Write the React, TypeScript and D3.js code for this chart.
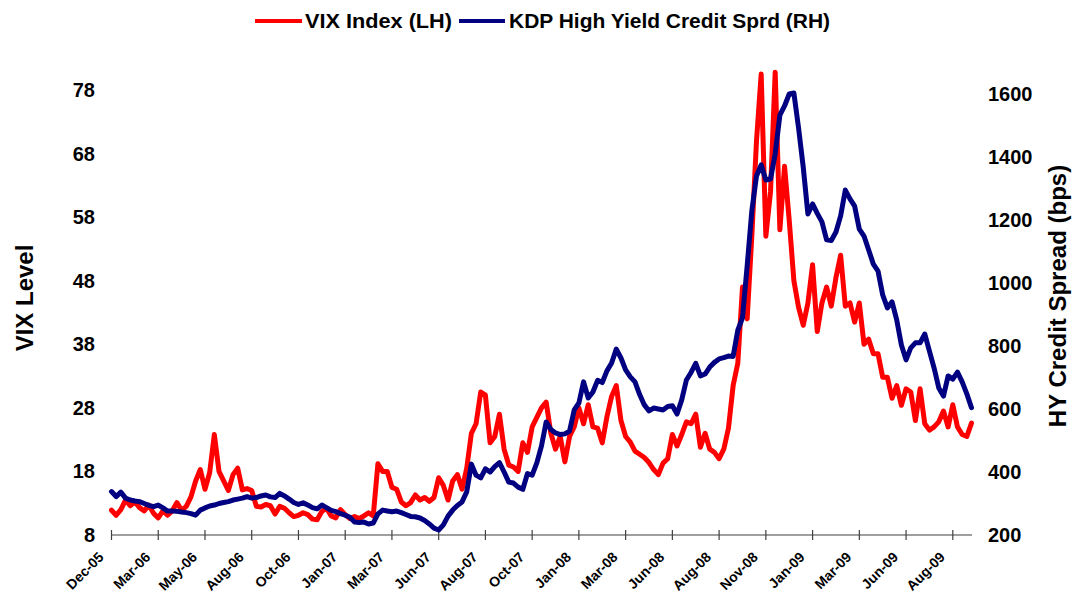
import React from "react";
import * as d3 from "d3";

// Weekly samples (index 0..184), Dec-05 .. Oct-09
const vixIndex: number[] = [11.9,11.1,12.0,13.5,12.6,13.2,12.3,11.8,12.7,11.4,
10.7,11.8,11.1,11.8,13.1,11.9,12.5,14.0,16.5,18.3,
15.2,17.8,23.8,18.0,16.5,15.0,17.5,18.5,15.1,15.3,
15.0,12.5,12.4,12.8,12.6,11.3,12.5,12.2,11.5,10.9,
11.1,11.5,11.2,10.5,10.4,11.7,12.2,11.0,10.7,12.0,
11.2,10.6,10.9,10.6,11.0,11.5,11.0,19.2,18.0,18.0,
15.5,15.2,13.2,12.6,13.1,14.3,13.5,13.9,13.3,13.9,
17.0,15.8,13.5,16.5,17.5,15.2,18.5,24.0,25.5,30.5,
30.0,22.5,23.5,27.0,21.5,19.0,18.7,18.0,22.5,21.0,
25.0,26.5,28.0,28.9,24.0,21.5,23.5,19.5,23.5,25.0,
28.0,25.5,28.5,25.0,24.8,22.5,26.6,29.8,31.5,26.0,
23.5,22.6,21.2,20.7,20.2,19.4,18.3,17.5,19.3,20.0,
23.8,22.0,23.8,25.8,25.5,27.0,21.8,24.0,21.5,21.0,
20.0,21.5,24.8,31.5,35.0,47.0,42.0,55.0,70.0,80.5,
55.0,62.0,80.8,56.0,66.0,57.5,48.0,43.8,41.0,44.5,
50.5,40.0,44.5,47.0,44.0,48.5,52.0,44.0,44.5,41.5,
44.5,38.0,38.8,36.5,36.5,32.8,32.8,29.5,31.5,28.4,
31.0,30.5,26.0,31.0,25.5,24.5,25.0,25.8,27.5,25.0,
28.5,25.0,23.8,23.5,25.6];

const hySpread: number[] = [338,322,336,317,311,308,306,300,294,290,
295,286,276,276,275,273,271,268,263,279,
286,292,295,300,303,306,311,314,317,322,
317,319,324,327,321,319,332,324,314,303,
297,302,295,287,283,295,287,278,274,268,
263,256,241,240,241,235,238,267,279,276,
274,276,271,265,259,258,254,246,235,222,
216,232,260,279,294,305,337,425,390,381,
410,400,417,430,400,368,365,352,345,395,
390,429,483,559,535,524,519,521,530,597,
619,686,635,654,691,684,721,746,790,762,
724,702,686,646,613,594,603,600,597,608,
610,584,629,692,716,745,705,711,733,748,
759,763,768,767,850,889,1054,1229,1340,1375,
1327,1330,1410,1533,1562,1600,1603,1492,1368,1219,
1251,1221,1194,1137,1135,1162,1213,1295,1267,1244,
1171,1149,1105,1060,1038,962,921,940,883,803,
756,794,810,810,838,784,730,667,641,705,
695,717,686,648,604];

const xTickLabels: string[] = ["Dec-05","Mar-06","May-06","Aug-06","Oct-06","Jan-07","Mar-07","Jun-07","Aug-07","Oct-07","Jan-08","Mar-08","Jun-08","Aug-08","Nov-08","Jan-09","Mar-09","Jun-09","Aug-09"];
const samplesPerTick = 10;
const leftTicks: number[] = [8, 18, 28, 38, 48, 58, 68, 78];
const rightTicks: number[] = [200, 400, 600, 800, 1000, 1200, 1400, 1600];

const FONT = "'Liberation Sans', Arial, sans-serif";
const RED = "#ff0000";
const NAVY = "#000080";

export default function App() {
  const W = 1081, H = 598;
  const x0 = 111.5, x1 = 971.5;
  const yBase = 535;
  const x = d3.scaleLinear().domain([0, vixIndex.length - 1]).range([x0, x1]);
  const yL = d3.scaleLinear().domain([8, 78]).range([yBase, 90]);
  const yR = d3.scaleLinear().domain([200, 1600]).range([yBase, 94]);

  const lineL = d3.line<number>().x((_, i) => x(i)).y((d) => yL(d));
  const lineR = d3.line<number>().x((_, i) => x(i)).y((d) => yR(d));

  return (
    <svg width={W} height={H} style={{ position: "absolute", left: 0, top: 0, background: "#fff" }} fontFamily={FONT}>
      {/* legend */}
      <line x1={255} x2={302} y1={21} y2={21} stroke={RED} strokeWidth={4} />
      <text x={305} y={28} fontSize={20} fontWeight="bold" textLength={147} lengthAdjust="spacingAndGlyphs">VIX Index (LH)</text>
      <line x1={459} x2={505} y1={21} y2={21} stroke={NAVY} strokeWidth={4} />
      <text x={509} y={28} fontSize={20} fontWeight="bold" textLength={321} lengthAdjust="spacingAndGlyphs">KDP High Yield Credit Sprd (RH)</text>

      {/* axis titles */}
      <text transform={`translate(33,298) rotate(-90)`} textAnchor="middle" fontSize={24} fontWeight="bold">VIX Level</text>
      <text transform={`translate(1066,296) rotate(-90)`} textAnchor="middle" fontSize={24} fontWeight="bold">HY Credit Spread (bps)</text>

      {/* left ticks */}
      {leftTicks.map((t) => (
        <text key={"l" + t} x={95} y={yL(t)} dy="0.35em" textAnchor="end" fontSize={20} fontWeight="bold">{t}</text>
      ))}
      {/* right ticks */}
      {rightTicks.map((t) => (
        <text key={"r" + t} x={988} y={yR(t)} dy="0.35em" textAnchor="start" fontSize={20} fontWeight="bold">{t}</text>
      ))}

      {/* x axis */}
      <line x1={x0} x2={x1 + 0.5} y1={yBase} y2={yBase} stroke="#404040" strokeWidth={1.2} />
      {xTickLabels.map((lab, k) => {
        const px = x(k * samplesPerTick);
        return (
          <g key={lab + k}>
            <line x1={px} x2={px} y1={yBase - 5} y2={yBase + 5} stroke="#404040" strokeWidth={1.2} />
            <text transform={`translate(${px - 7},${yBase + 23}) rotate(-45)`} textAnchor="end" fontSize={14} fontWeight="bold">{lab}</text>
          </g>
        );
      })}

      {/* series */}
      <path d={lineL(vixIndex) || ""} fill="none" stroke={RED} strokeWidth={5} strokeLinejoin="round" strokeLinecap="round" />
      <path d={lineR(hySpread) || ""} fill="none" stroke={NAVY} strokeWidth={5} strokeLinejoin="round" strokeLinecap="round" />
    </svg>
  );
}
